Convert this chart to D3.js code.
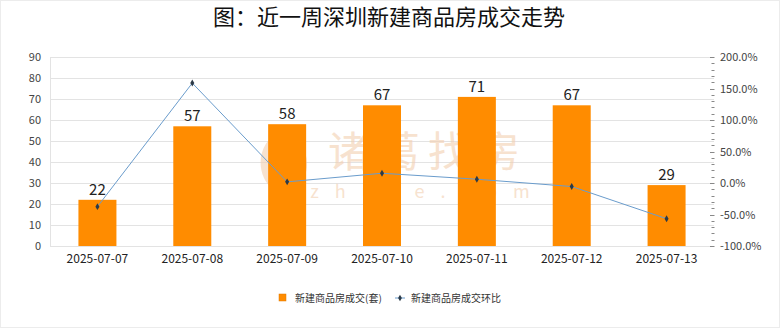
<!DOCTYPE html>
<html><head><meta charset="utf-8">
<script src="https://cdn.jsdelivr.net/npm/d3@7"></script>
<style>
html,body{margin:0;padding:0;background:#fff;}
svg{display:block;font-family:"Noto Sans CJK SC","Noto Sans",sans-serif;}
</style></head>
<body><svg id="c" width="780" height="328"></svg>
<script>
const title = "图：近一周深圳新建商品房成交走势";
const categories = ["2025-07-07","2025-07-08","2025-07-09","2025-07-10","2025-07-11","2025-07-12","2025-07-13"];
const salesValues = [22,57,58,67,71,67,29];
const momValues = [-37.5,158.6,1.8,15.5,6.0,-5.6,-56.7];
const leftTicks = [0,10,20,30,40,50,60,70,80,90];
const rightTicks = [-100,-50,0,50,100,150,200];
const rightMinorTicks = d3.range(-100,201,10);
const seriesNames = ["新建商品房成交(套)","新建商品房成交环比"];

const svg = d3.select("#c");
const m = {l:50, r:714, t:57, b:246};

const x = d3.scaleBand().domain(categories).range([m.l, m.r]);
const yL = d3.scaleLinear().domain([0,90]).range([m.b, m.t]);
const yR = d3.scaleLinear().domain([-100,200]).range([m.b, m.t]);

// border
svg.append("rect").attr("x",0.5).attr("y",0.5).attr("width",779).attr("height",327)
  .attr("fill","#fff").attr("stroke","#ececec");

// title
svg.append("text").attr("x",389).attr("y",25).attr("text-anchor","middle")
  .attr("font-size",22).attr("font-weight",400).attr("fill","#111").text(title);

// gridlines
svg.append("g").selectAll("line").data(leftTicks).join("line")
  .attr("x1",m.l).attr("x2",m.r).attr("y1",d=>Math.round(yL(d))+0.5).attr("y2",d=>Math.round(yL(d))+0.5)
  .attr("stroke","#e3e3e3").attr("stroke-width",1);
svg.append("line").attr("x1",m.l+0.5).attr("x2",m.l+0.5).attr("y1",m.t).attr("y2",m.b)
  .attr("stroke","#e3e3e3");

// watermark
const wm = svg.append("g").attr("opacity",0.6);
wm.append("path").attr("d","M283,128 C262,140 256,160 264,178 C270,190 282,196 283,198 C284,196 298,190 304,178 C312,160 304,140 283,128 Z")
  .attr("fill","#f3cfb0");
wm.append("text").attr("x",428).attr("y",167).attr("text-anchor","middle").attr("font-size",42)
  .attr("fill","#f3cfb0").attr("letter-spacing",8).text("诸葛找房");
wm.append("text").attr("x",428).attr("y",198).attr("text-anchor","middle").attr("font-size",18)
  .attr("fill","#f3cfb0").attr("letter-spacing",16).text("zhuge.com");

// left axis labels
svg.append("g").selectAll("text").data(leftTicks).join("text")
  .attr("x",41).attr("y",d=>yL(d)+4).attr("text-anchor","end")
  .attr("font-size",11).attr("fill","#444").text(d=>d);

// right axis ticks
svg.append("g").selectAll("line").data(rightMinorTicks).join("line")
  .attr("x1",d=> d%50===0 ? 710 : 711.5).attr("x2",714.5)
  .attr("y1",d=>Math.round(yR(d))+0.5).attr("y2",d=>Math.round(yR(d))+0.5)
  .attr("stroke","#888").attr("stroke-width",1);
svg.append("g").selectAll("text").data(rightTicks).join("text")
  .attr("x",720).attr("y",d=>yR(d)+4).attr("text-anchor","start")
  .attr("font-size",11).attr("fill","#444").text(d=>d.toFixed(1)+"%");

// x labels
svg.append("g").selectAll("text").data(categories).join("text")
  .attr("x",d=>x(d)+x.bandwidth()/2).attr("y",263).attr("text-anchor","middle")
  .attr("font-size",12).attr("fill","#222").text(d=>d);

// bars
const bw = 38;
svg.append("g").selectAll("rect").data(salesValues).join("rect")
  .attr("x",(d,i)=>x(categories[i])+x.bandwidth()/2-bw/2).attr("width",bw)
  .attr("y",d=>yL(d)).attr("height",d=>yL(0)-yL(d)).attr("fill","#ff8c00");
svg.append("g").selectAll("text").data(salesValues).join("text")
  .attr("x",(d,i)=>x(categories[i])+x.bandwidth()/2).attr("y",d=>yL(d)-5)
  .attr("text-anchor","middle").attr("font-size",15).attr("fill","#222").text(d=>d);

// line
const line = d3.line().x((d,i)=>x(categories[i])+x.bandwidth()/2).y(d=>yR(d));
svg.append("path").datum(momValues).attr("d",line).attr("fill","none")
  .attr("stroke","#6a9ccc").attr("stroke-width",1);
const diamond = d3.symbol().type(d3.symbolDiamond).size(14);
svg.append("g").selectAll("path").data(momValues).join("path")
  .attr("transform",(d,i)=>`translate(${x(categories[i])+x.bandwidth()/2},${yR(d)})`)
  .attr("d",diamond).attr("fill","#2b3a48");

// legend
const lg = svg.append("g");
lg.append("rect").attr("x",279).attr("y",294).attr("width",7).attr("height",7).attr("fill","#ff8c00").attr("stroke","#e07a00").attr("stroke-width",0.5);
lg.append("text").attr("x",295).attr("y",301.5).attr("font-size",10).attr("fill","#333").text(seriesNames[0]);
lg.append("line").attr("x1",395).attr("x2",405).attr("y1",298).attr("y2",298).attr("stroke","#6a9ccc");
lg.append("path").attr("transform","translate(400,298)").attr("d",d3.symbol().type(d3.symbolDiamond).size(12)).attr("fill","#2b3a48");
lg.append("text").attr("x",411).attr("y",301.5).attr("font-size",10).attr("fill","#333").text(seriesNames[1]);
</script></body></html>
